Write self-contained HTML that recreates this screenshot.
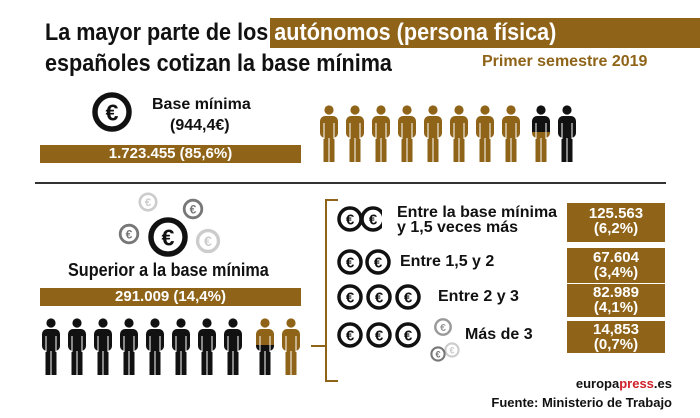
<!DOCTYPE html>
<html><head><meta charset="utf-8"><style>
body{margin:0;background:#fff}
#c{position:relative;width:700px;height:418px;overflow:hidden;font-family:"Liberation Sans",sans-serif;font-weight:bold;color:#111}
.a{position:absolute;white-space:nowrap}
.n{transform:scaleX(0.9);transform-origin:left top}
.bar{position:absolute;background:#8f6418;color:#fff;text-align:center}
.box{position:absolute;background:#8f6418;color:#fff;text-align:center;font-size:15px;line-height:15px;left:567px;width:98px}
</style></head><body><div id="c">
<div class="bar" style="left:270px;top:18px;width:430px;height:30px"></div>
<div class="a n" style="left:45px;top:19px;font-size:24px">La mayor parte de los <span style="color:#fff">autónomos (persona física)</span></div>
<div class="a n" style="left:45px;top:50px;font-size:24px">españoles cotizan la base mínima</div>
<div class="a" style="left:482px;top:53px;font-size:16px;color:#8f6418">Primer semestre 2019</div>
<div class="a" style="left:152px;top:96px;font-size:16px">Base mínima</div>
<div class="a" style="left:170px;top:117px;font-size:16px">(944,4€)</div>
<div class="bar" style="left:40px;top:145px;width:261px;height:18px;font-size:15px;line-height:18px">1.723.455 (85,6%)</div>
<div class="a" style="left:35px;top:182px;width:631px;height:2px;background:#333"></div>
<div class="a n" style="left:68px;top:260px;font-size:18px">Superior a la base mínima</div>
<div class="bar" style="left:40px;top:288px;width:261px;height:18px;font-size:15px;line-height:18px">291.009 (14,4%)</div>
<div class="a" style="left:397px;top:205px;font-size:16px;line-height:15px">Entre la base mínima<br>y 1,5 veces más</div>
<div class="a" style="left:400px;top:253px;font-size:16px">Entre 1,5 y 2</div>
<div class="a" style="left:438px;top:288px;font-size:16px">Entre 2 y 3</div>
<div class="a" style="left:465px;top:326px;font-size:16px">Más de 3</div>
<div class="box" style="top:203px;height:36px;padding-top:3px">125.563<br>(6,2%)</div>
<div class="box" style="top:248px;height:33px;padding-top:2px">67.604<br>(3,4%)</div>
<div class="box" style="top:284px;height:32px;padding-top:1px">82.989<br>(4,1%)</div>
<div class="box" style="top:321px;height:31px;padding-top:1px">14,853<br>(0,7%)</div>
<div class="a" style="left:560px;top:376px;width:112px;text-align:right;font-size:13px">europa<span style="color:#d0202a">press</span>.es</div>
<div class="a" style="left:472px;top:395px;width:200px;text-align:right;font-size:13px">Fuente: Ministerio de Trabajo</div>
<svg class="a" style="left:0;top:0" width="700" height="418">
<defs>
<g id="p"><circle cx="11" cy="5" r="4.6"/><rect x="2" y="11" width="18" height="22" rx="5"/><rect x="5.5" y="28" width="5" height="29"/><rect x="11.5" y="28" width="5" height="29"/><line x1="6" y1="18" x2="6" y2="34" stroke="#fff" stroke-width="1"/><line x1="16" y1="18" x2="16" y2="34" stroke="#fff" stroke-width="1"/></g>
<linearGradient id="g1" gradientUnits="userSpaceOnUse" x1="0" y1="0" x2="0" y2="57"><stop offset="0.47" stop-color="#111"/><stop offset="0.47" stop-color="#8f6418"/></linearGradient>
<linearGradient id="g2" gradientUnits="userSpaceOnUse" x1="0" y1="0" x2="0" y2="57"><stop offset="0.47" stop-color="#8f6418"/><stop offset="0.47" stop-color="#111"/></linearGradient>
<g id="e"><circle r="11" fill="#fff" stroke-width="3.5"/><text y="5.5" text-anchor="middle" font-size="15" font-family="Liberation Sans" font-weight="bold" stroke="none">€</text></g>
</defs>
<g fill="#8f6418">
<use href="#p" x="318" y="105"/><use href="#p" x="344" y="105"/><use href="#p" x="370" y="105"/><use href="#p" x="396" y="105"/><use href="#p" x="422" y="105"/><use href="#p" x="448" y="105"/><use href="#p" x="474" y="105"/><use href="#p" x="500" y="105"/>
<g transform="translate(530,105)" fill="url(#g1)"><use href="#p"/></g><use href="#p" x="556" y="105" fill="#111"/>
</g>
<g fill="#111">
<use href="#p" x="40" y="318"/><use href="#p" x="66" y="318"/><use href="#p" x="92" y="318"/><use href="#p" x="118" y="318"/><use href="#p" x="144" y="318"/><use href="#p" x="170" y="318"/><use href="#p" x="196" y="318"/><use href="#p" x="222" y="318"/>
<g transform="translate(254,318)" fill="url(#g2)"><use href="#p"/></g><use href="#p" x="280" y="318" fill="#8f6418"/>
</g>
<g transform="translate(112,112) scale(1.55)" stroke="#111" fill="#111"><use href="#e"/></g>
<g transform="translate(148,202) scale(0.75)" stroke="#ccc" fill="#ccc"><use href="#e"/></g>
<g transform="translate(193,209) scale(0.8)" stroke="#777" fill="#777"><use href="#e"/></g>
<g transform="translate(129,234) scale(0.8)" stroke="#777" fill="#777"><use href="#e"/></g>
<g transform="translate(208,241) scale(0.95)" stroke="#ccc" fill="#ccc"><use href="#e"/></g>
<g transform="translate(168,237) scale(1.55)" stroke="#111" fill="#111"><use href="#e"/></g>
<g stroke="#8f6418" stroke-width="2" fill="none"><path d="M338 200H326V381H338M311 346H326"/></g>
<g stroke="#111" fill="#111">
<g transform="translate(373,219)"><use href="#e"/></g><g transform="translate(350,219)"><use href="#e"/></g>
<rect x="382" y="200" width="12" height="40" fill="#fff" stroke="none"/>
<g transform="translate(350,262)"><use href="#e"/></g><g transform="translate(378,262)"><use href="#e"/></g>
<g transform="translate(350,297)"><use href="#e"/></g><g transform="translate(379,297)"><use href="#e"/></g><g transform="translate(408,297)"><use href="#e"/></g>
<g transform="translate(350,335)"><use href="#e"/></g><g transform="translate(379,335)"><use href="#e"/></g><g transform="translate(408,335)"><use href="#e"/></g>
</g>
<g transform="translate(443,327) scale(0.7)" stroke="#999" fill="#999"><use href="#e"/></g>
<g transform="translate(452,350) scale(0.6)" stroke="#ccc" fill="#ccc"><use href="#e"/></g>
<g transform="translate(438,354) scale(0.6)" stroke="#777" fill="#777"><use href="#e"/></g>
</svg>
</div></body></html>
